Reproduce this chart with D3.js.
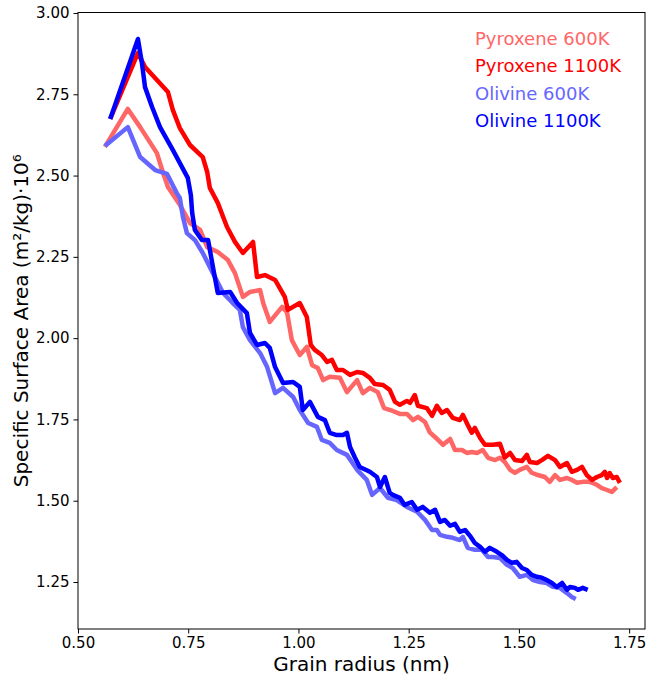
<!DOCTYPE html>
<html>
<head>
<meta charset="utf-8">
<script src="https://cdn.jsdelivr.net/npm/d3@7/dist/d3.min.js"></script>
<style>
  html, body { margin: 0; padding: 0; background: #fff; }
  svg { display: block; font-family: "DejaVu Sans", sans-serif; }
</style>
</head>
<body>
<svg id="chart" width="649" height="677"></svg>
<script>
// Grain radius (nm) and specific surface area (m²/kg · 10⁶) per mineral / temperature
const pyx600Radius = [0.561,0.613,0.641,0.679,0.693,0.704,0.731,0.754,0.777,0.793,
  0.817,0.840,0.856,0.874,0.890,0.913,0.920,0.935,0.963,0.974,
  0.985,1.003,1.019,1.031,1.044,1.056,1.071,1.094,1.110,1.133,
  1.146,1.162,1.180,1.194,1.214,1.230,1.246,1.260,1.271,1.287,
  1.298,1.312,1.328,1.344,1.355,1.371,1.382,1.393,1.405,1.418,
  1.430,1.446,1.457,1.468,1.480,1.491,1.502,1.518,1.529,1.543,
  1.559,1.570,1.582,1.593,1.609,1.620,1.632,1.645,1.661,1.677,
  1.688,1.700,1.711,1.722];
const pyx600Area = [2.588,2.705,2.649,2.569,2.508,2.465,2.410,2.354,2.333,2.280,
  2.265,2.240,2.200,2.127,2.142,2.148,2.108,2.050,2.096,2.080,
  1.994,1.948,1.973,1.917,1.908,1.871,1.881,1.878,1.834,1.871,
  1.831,1.847,1.834,1.785,1.776,1.767,1.767,1.748,1.758,1.742,
  1.710,1.693,1.672,1.690,1.656,1.656,1.647,1.650,1.647,1.656,
  1.632,1.625,1.632,1.619,1.595,1.586,1.595,1.604,1.586,1.579,
  1.573,1.558,1.579,1.564,1.570,1.564,1.555,1.558,1.558,1.549,
  1.539,1.533,1.527,1.542];

const pyx1100Radius = [0.573,0.636,0.652,0.679,0.704,0.715,0.731,0.754,0.783,0.793,
  0.799,0.817,0.838,0.856,0.874,0.897,0.906,0.924,0.947,0.969,
  0.976,1.003,1.019,1.028,1.037,1.053,1.065,1.076,1.087,1.101,
  1.117,1.133,1.146,1.162,1.173,1.192,1.207,1.219,1.230,1.246,
  1.253,1.264,1.271,1.291,1.303,1.314,1.325,1.337,1.350,1.366,
  1.373,1.384,1.393,1.400,1.412,1.423,1.441,1.457,1.468,1.480,
  1.491,1.507,1.518,1.525,1.541,1.552,1.566,1.582,1.593,1.609,
  1.620,1.632,1.643,1.654,1.666,1.677,1.688,1.695,1.700,1.706,
  1.713,1.722,1.729];
const pyx1100Area = [2.674,2.877,2.834,2.794,2.757,2.702,2.646,2.594,2.557,2.511,
  2.462,2.416,2.342,2.296,2.262,2.296,2.188,2.194,2.179,2.127,
  2.087,2.108,2.065,1.979,1.964,1.948,1.927,1.933,1.902,1.902,
  1.887,1.896,1.893,1.878,1.859,1.856,1.841,1.804,1.795,1.807,
  1.801,1.825,1.792,1.785,1.761,1.792,1.770,1.779,1.755,1.748,
  1.764,1.733,1.709,1.724,1.693,1.672,1.672,1.675,1.633,1.647,
  1.625,1.622,1.641,1.619,1.616,1.625,1.638,1.625,1.604,1.616,
  1.589,1.595,1.604,1.579,1.564,1.573,1.579,1.589,1.570,1.585,
  1.570,1.573,1.555];

const ol600Radius = [0.561,0.613,0.641,0.675,0.702,0.724,0.731,0.738,0.747,0.765,
  0.783,0.806,0.829,0.851,0.867,0.874,0.890,0.913,0.929,0.947,
  0.965,0.988,1.003,1.022,1.042,1.053,1.071,1.087,1.110,1.133,
  1.155,1.167,1.185,1.203,1.223,1.246,1.269,1.287,1.303,1.314,
  1.321,1.337,1.350,1.366,1.373,1.384,1.400,1.416,1.430,1.441,
  1.457,1.473,1.486,1.502,1.518,1.532,1.548,1.563,1.577,1.593,
  1.609,1.620,1.629];
const ol600Area = [2.591,2.649,2.557,2.517,2.505,2.446,2.431,2.373,2.323,2.302,
  2.262,2.200,2.139,2.108,2.087,2.034,1.994,1.954,1.911,1.831,
  1.847,1.819,1.779,1.739,1.727,1.687,1.678,1.656,1.641,1.595,
  1.564,1.518,1.539,1.509,1.502,1.481,1.466,1.441,1.410,1.410,
  1.395,1.389,1.386,1.379,1.389,1.355,1.349,1.349,1.327,1.327,
  1.324,1.303,1.293,1.266,1.272,1.256,1.250,1.247,1.235,1.232,
  1.216,1.204,1.198];

const ol1100Radius = [0.573,0.636,0.645,0.652,0.668,0.686,0.715,0.749,0.756,0.759,
  0.765,0.781,0.795,0.806,0.817,0.845,0.861,0.883,0.890,0.906,
  0.924,0.935,0.947,0.965,0.988,1.003,1.010,1.026,1.044,1.060,
  1.071,1.087,1.101,1.110,1.117,1.128,1.139,1.162,1.178,1.185,
  1.196,1.207,1.214,1.230,1.241,1.257,1.269,1.282,1.298,1.310,
  1.321,1.332,1.344,1.355,1.366,1.378,1.389,1.400,1.412,1.423,
  1.434,1.450,1.461,1.473,1.484,1.495,1.507,1.518,1.529,1.541,
  1.552,1.563,1.575,1.586,1.598,1.609,1.616,1.627,1.634,1.645,1.656];
const ol1100Area = [2.674,2.920,2.846,2.772,2.711,2.649,2.579,2.493,2.440,2.385,
  2.333,2.302,2.302,2.219,2.139,2.142,2.108,2.077,2.016,1.979,
  1.985,1.970,1.911,1.862,1.865,1.850,1.779,1.804,1.758,1.748,
  1.709,1.702,1.702,1.709,1.665,1.633,1.604,1.589,1.573,1.542,
  1.573,1.524,1.518,1.509,1.487,1.496,1.472,1.481,1.463,1.472,
  1.435,1.441,1.423,1.429,1.404,1.410,1.392,1.370,1.358,1.343,
  1.355,1.343,1.333,1.318,1.309,1.312,1.293,1.287,1.272,1.266,
  1.263,1.256,1.247,1.235,1.247,1.226,1.235,1.232,1.226,1.232,1.226];

const seriesLabels = ["Pyroxene 600K", "Pyroxene 1100K", "Olivine 600K", "Olivine 1100K"];
const seriesColors = ["#ff6666", "#ff0000", "#6666ff", "#0000ff"];
const xTicks = [0.50, 0.75, 1.00, 1.25, 1.50, 1.75];
const yTicks = [1.25, 1.50, 1.75, 2.00, 2.25, 2.50, 2.75, 3.00];

const series = [
  { r: pyx600Radius, a: pyx600Area },
  { r: pyx1100Radius, a: pyx1100Area },
  { r: ol600Radius, a: ol600Area },
  { r: ol1100Radius, a: ol1100Area }
].map((s, i) => ({
  label: seriesLabels[i],
  color: seriesColors[i],
  points: s.r.map((r, j) => [r, s.a[j]])
}));

const margin = { left: 78, right: 4, top: 12.5, bottom: 48 };
const W = 649, H = 677;
const svg = d3.select("#chart");

const x = d3.scaleLinear().domain([0.5, 1.786]).range([margin.left, W - margin.right]);
const y = d3.scaleLinear().domain([1.1055, 3.0015]).range([H - margin.bottom, margin.top]);

// Lines
const line = d3.line().x(d => x(d[0])).y(d => y(d[1]));
svg.append("g")
  .selectAll("path")
  .data(series)
  .join("path")
  .attr("d", d => line(d.points))
  .attr("fill", "none")
  .attr("stroke", d => d.color)
  .attr("stroke-width", 4.5)
  .attr("stroke-linejoin", "round")
  .attr("stroke-linecap", "butt");

// Axes
const xAxis = d3.axisBottom(x).tickValues(xTicks).tickFormat(d3.format(".2f")).tickSize(4.5).tickPadding(4);
const yAxis = d3.axisLeft(y).tickValues(yTicks).tickFormat(d3.format(".2f")).tickSize(4.5).tickPadding(4);

const gx = svg.append("g").attr("transform", `translate(0,${H - margin.bottom})`).call(xAxis);
const gy = svg.append("g").attr("transform", `translate(${margin.left},0)`).call(yAxis);
[gx, gy].forEach(g => {
  g.select(".domain").remove();
  g.selectAll(".tick line").attr("stroke", "#000").attr("stroke-width", 1);
  g.selectAll(".tick text").attr("fill", "#000").style("font-size", "15px")
    .style("font-family", "'DejaVu Sans', sans-serif");
});

// Frame
svg.append("rect")
  .attr("x", margin.left).attr("y", margin.top)
  .attr("width", W - margin.right - margin.left)
  .attr("height", H - margin.bottom - margin.top)
  .attr("fill", "none").attr("stroke", "#000").attr("stroke-width", 1);

// Axis titles
svg.append("text")
  .attr("x", (margin.left + W - margin.right) / 2)
  .attr("y", 671)
  .attr("text-anchor", "middle")
  .style("font-size", "20px")
  .text("Grain radius (nm)");

svg.append("text")
  .attr("transform", `translate(28,${(margin.top + H - margin.bottom) / 2}) rotate(-90)`)
  .attr("text-anchor", "middle")
  .style("font-size", "20px")
  .text("Specific Surface Area (m²/kg)·10⁶");

// Legend: coloured labels only
svg.append("g")
  .selectAll("text")
  .data(series)
  .join("text")
  .attr("x", 475)
  .attr("y", (d, i) => 45 + i * 27.3)
  .attr("fill", d => d.color)
  .style("font-size", "18px")
  .text(d => d.label);
</script>
</body>
</html>
